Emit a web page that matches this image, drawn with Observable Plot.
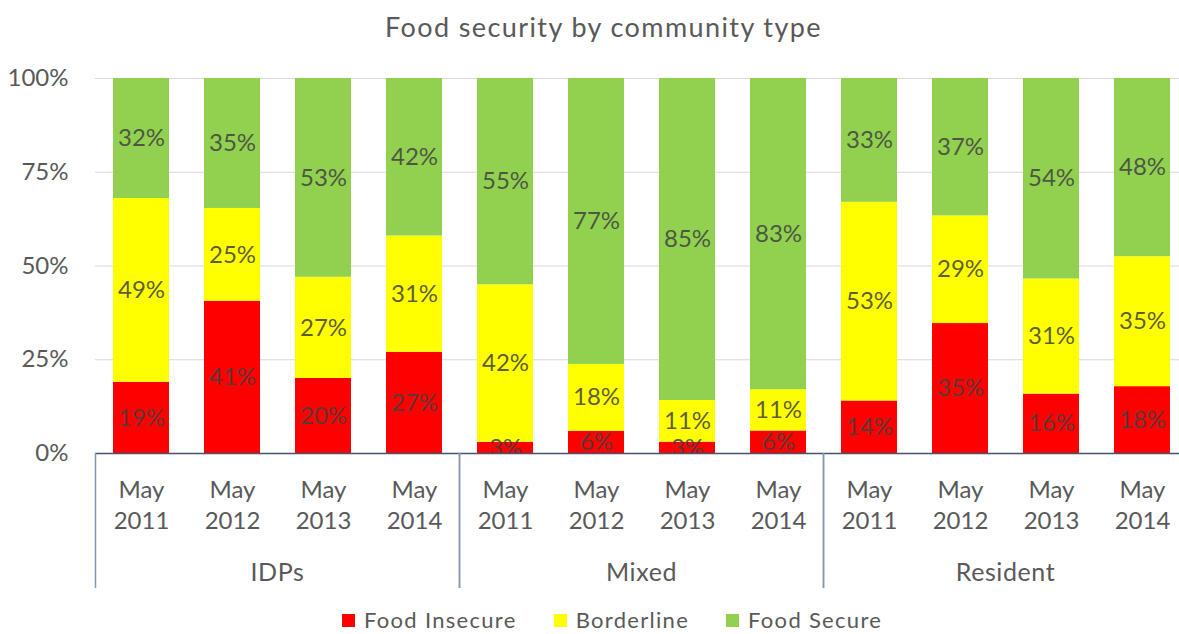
<!DOCTYPE html>
<html>
<head>
<meta charset="utf-8">
<script src="https://cdn.jsdelivr.net/npm/d3@7"></script>
<script src="https://cdn.jsdelivr.net/npm/@observablehq/plot@0.6"></script>
<style>
  html, body { margin: 0; padding: 0; background: #fff; overflow: hidden; width: 1179px; height: 634px; }
  #title { position: absolute; left: 0; top: 10px; width: 1179px; padding-left: 28px; box-sizing: border-box;
           text-align: center; font-family: Lato, sans-serif; font-size: 27px; letter-spacing: 1.4px; color: #595959; }
  #chart { position: absolute; left: 0; top: 55px; }
  #legend { position: absolute; left: 342px; top: 607px; display: flex; align-items: center;
            font-family: Lato, sans-serif; font-size: 22px; line-height: 26px; letter-spacing: 1.3px; color: #595959; }
  #legend .item { display: flex; align-items: center; margin-right: 37px; }
  #legend .sw { width: 13px; height: 13px; margin-right: 9px; }
</style>
</head>
<body>
<div id="title">Food security by community type</div>
<div id="chart"></div>
<div id="legend"></div>
<script>
const groups = ["IDPs", "Mixed", "Resident"];
const years = ["2011", "2012", "2013", "2014"];
const series = ["Food Insecure", "Borderline", "Food Secure"];
const insecure   = [19, 41, 20, 27,  3,  6,  3,  6, 14, 35, 16, 18];
const borderline = [49, 25, 27, 31, 42, 18, 11, 11, 53, 29, 31, 35];
const secure     = [32, 35, 53, 42, 55, 77, 85, 83, 33, 37, 54, 48];
const colors = ["#ff0000", "#ffff00", "#92d050"];
const yTicks = [0, 0.25, 0.5, 0.75, 1];

const seriesValues = [insecure, borderline, secure];
const cats = [];
groups.forEach((g, gi) => years.forEach((y, yi) => cats.push({key: g + "|" + y, group: g, year: y, i: gi * years.length + yi})));
const rows = [];
cats.forEach(c => series.forEach((s, si) => rows.push({key: c.key, series: s, value: seriesValues[si][c.i]})));
const keys = cats.map(c => c.key);

const textColor = "#595959";

function groupDecor(index, scales, values, dims) {
  const x = scales.x, y = scales.y;
  const bw = typeof x.bandwidth === "function" ? x.bandwidth() : (x.bandwidth ?? (scales.scales?.x?.bandwidth ?? 0));
  const step = x(keys[1]) - x(keys[0]);
  const y0 = y(0);
  const g = d3.create("svg:g");
  const n = years.length;
  groups.forEach((grp, gi) => {
    const first = x(keys[gi * n]) + bw / 2;
    const last = x(keys[gi * n + n - 1]) + bw / 2;
    const left = first - step / 2;
    const right = last + step / 2;
    [left, right].forEach(px => {
      g.append("line").attr("x1", px).attr("x2", px).attr("y1", y0).attr("y2", y0 + 135)
        .attr("stroke", "#8496b0").attr("stroke-width", 1.5);
    });
    g.append("text").attr("x", (first + last) / 2).attr("y", y0 + 122)
      .attr("text-anchor", "middle").attr("dominant-baseline", "middle")
      .attr("font-family", "Lato, sans-serif").attr("font-size", 25).attr("letter-spacing", 0.6)
      .attr("fill", textColor)
      .text(grp);
  });
  return g.node();
}

const chart = Plot.plot({
  width: 1187,
  height: 550,
  marginTop: 23,
  marginBottom: 152,
  marginLeft: 95,
  marginRight: 0,
  style: {fontFamily: "Lato, sans-serif", background: "transparent", overflow: "visible", maxWidth: "none"},
  x: {type: "band", domain: keys, paddingInner: 0.385, paddingOuter: 0.1925, axis: null},
  y: {domain: [0, 1], axis: null},
  color: {domain: series, range: colors},
  marks: [
    Plot.gridY(yTicks.slice(1), {stroke: "#d9d9d9", strokeOpacity: 1, strokeWidth: 1.2}),
    Plot.axisY(yTicks, {tickSize: 0, tickPadding: 27, tickFormat: d3.format(".0%"), fontSize: 24, fill: textColor, label: null}),
    Plot.barY(rows, {x: "key", y: "value", fill: "series", z: "series", offset: "normalize", order: series}),
    Plot.text(rows, Plot.stackY({x: "key", y: "value", z: "series", offset: "normalize", order: series,
      text: d => d.value + "%", fontSize: 24, fill: "#404040", fillOpacity: 0.85, clip: true})),
    Plot.ruleY([0], {stroke: "#44546a", strokeWidth: 1.5}),
    Plot.text(cats, {x: "key", frameAnchor: "bottom", text: d => "May\n" + d.year, lineAnchor: "top",
      dy: 22, lineHeight: 1.3, fontSize: 24, fill: textColor}),
    groupDecor
  ]
});
document.getElementById("chart").appendChild(chart);

const legend = document.getElementById("legend");
series.forEach((s, i) => {
  const item = document.createElement("div");
  item.className = "item";
  const sw = document.createElement("span");
  sw.className = "sw";
  sw.style.background = colors[i];
  const lbl = document.createElement("span");
  lbl.textContent = s;
  item.appendChild(sw);
  item.appendChild(lbl);
  legend.appendChild(item);
});
</script>
</body>
</html>
